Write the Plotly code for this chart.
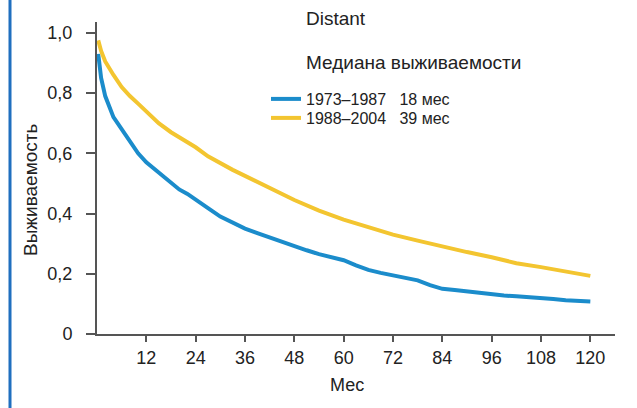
import plotly.graph_objects as go

# Data
months_blue = [0.3, 0.6, 1, 2, 3, 4, 5, 6, 7, 8, 9, 10, 12, 14, 16, 18, 20, 22, 24, 27, 30, 33, 36, 39, 42, 45, 48, 51, 54, 57, 60, 63, 66, 69, 72, 75, 78, 81, 84, 87, 90, 93, 96, 99, 102, 105, 108, 111, 114, 117, 120]
surv_blue = [0.93, 0.89, 0.85, 0.79, 0.75, 0.72, 0.70, 0.68, 0.66, 0.635, 0.615, 0.60, 0.57, 0.548, 0.522, 0.50, 0.48, 0.465, 0.445, 0.418, 0.39, 0.37, 0.35, 0.335, 0.32, 0.305, 0.29, 0.278, 0.265, 0.255, 0.245, 0.228, 0.213, 0.203, 0.195, 0.185, 0.178, 0.162, 0.150, 0.146, 0.141, 0.136, 0.132, 0.128, 0.125, 0.123, 0.120, 0.116, 0.112, 0.110, 0.108]

months_yellow = [0.3, 1, 2, 3, 4, 6, 8, 10, 12, 15, 18, 21, 24, 27, 30, 33, 36, 39, 42, 45, 48, 54, 60, 66, 72, 78, 84, 90, 96, 102, 108, 114, 120]
surv_yellow = [0.975, 0.94, 0.905, 0.88, 0.86, 0.82, 0.79, 0.765, 0.74, 0.70, 0.67, 0.645, 0.62, 0.59, 0.567, 0.545, 0.525, 0.505, 0.485, 0.465, 0.445, 0.41, 0.38, 0.355, 0.33, 0.31, 0.29, 0.272, 0.255, 0.235, 0.222, 0.207, 0.193]

names = ["1973–1987\u00a0\u00a0\u00a018 мес", "1988–2004\u00a0\u00a0\u00a039 мес"]
colors = ["#1b8ccb", "#f3c530"]

x_ticks = [12, 24, 36, 48, 60, 72, 84, 96, 108, 120]
y_ticks = [0, 0.2, 0.4, 0.6, 0.8, 1.0]
y_tick_text = ["0", "0,2", "0,4", "0,6", "0,8", "1,0"]

FONT = "Liberation Sans, Arial, sans-serif"

fig = go.Figure()
fig.add_trace(go.Scatter(x=months_blue, y=surv_blue, mode="lines", name=names[0],
                         line=dict(color=colors[0], width=4), legend="legend"))
fig.add_trace(go.Scatter(x=months_yellow, y=surv_yellow, mode="lines", name=names[1],
                         line=dict(color=colors[1], width=4), legend="legend2"))

L, R, T, B = 97, 22, 22, 74
W, H = 637, 408
pw, ph = W - L - R, H - T - B

def px2x(px):
    return (px - L) / pw

def py2y(py):
    return (H - B - py) / ph

legend_common = dict(xanchor="left", yanchor="middle",
                     font=dict(size=16, color="#222222"), bgcolor="rgba(0,0,0,0)",
                     itemwidth=30)

fig.update_layout(
    width=W, height=H,
    margin=dict(l=L, r=R, t=T, b=B, autoexpand=False),
    paper_bgcolor="white", plot_bgcolor="white",
    font=dict(family=FONT, size=18, color="#222222"),
    legend=dict(x=px2x(266), y=py2y(99), **legend_common),
    legend2=dict(x=px2x(266), y=py2y(118), **legend_common),
    xaxis=dict(range=[0, 126], tickvals=x_ticks, ticks="outside", ticklen=6,
               tickwidth=2, tickcolor="#555555", showline=True, linecolor="#555555",
               linewidth=2, showgrid=False, zeroline=False, automargin=False,
               tickfont=dict(size=18, color="#222222")),
    yaxis=dict(range=[0, 1.036], tickvals=y_ticks, ticktext=y_tick_text,
               ticks="outside", ticklen=9, tickwidth=2, tickcolor="#555555",
               showline=True, linecolor="#555555", linewidth=2, showgrid=False,
               zeroline=False, ticklabelstandoff=10, automargin=False,
               tickfont=dict(size=18, color="#222222")),
    showlegend=True,
)

fig.add_annotation(text="Distant", xref="paper", yref="paper", x=px2x(304), y=py2y(18),
                   xanchor="left", yanchor="middle", showarrow=False, font=dict(size=19))
fig.add_annotation(text="Медиана выживаемости", xref="paper", yref="paper", x=px2x(304), y=py2y(62),
                   xanchor="left", yanchor="middle", showarrow=False, font=dict(size=19))
fig.add_annotation(text="Мес", xref="paper", yref="paper", x=px2x(347), y=py2y(385),
                   xanchor="center", yanchor="middle", showarrow=False, font=dict(size=18))
fig.add_annotation(text="Выживаемость", xref="paper", yref="paper", x=px2x(30), y=py2y(190),
                   xanchor="center", yanchor="middle", textangle=-90, showarrow=False,
                   font=dict(size=19))

fig.add_shape(type="line", xref="paper", yref="paper", x0=px2x(10), x1=px2x(10),
              y0=py2y(H), y1=py2y(0), line=dict(color="#1f6fbf", width=3))

fig.write_html("out.html", config={"displayModeBar": False},
               post_script="document.body.style.margin='0';")
